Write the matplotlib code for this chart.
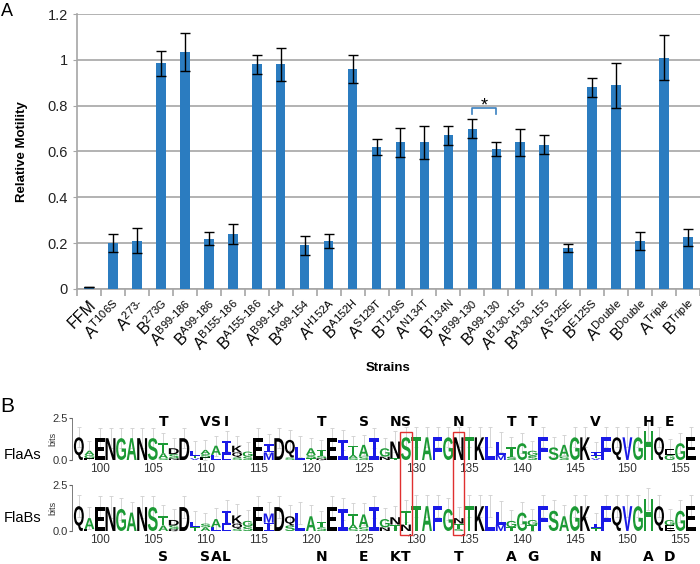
import matplotlib
matplotlib.use('Agg')
import matplotlib.pyplot as plt
import numpy as np
from matplotlib.textpath import TextPath
from matplotlib.font_manager import FontProperties
from matplotlib.patches import PathPatch, Rectangle
from matplotlib.transforms import Affine2D, blended_transform_factory

plt.rcParams['font.family'] = ['Liberation Sans', 'DejaVu Sans']

# ---- panel A data ----
strain_base = ['FFM', 'A', 'A', 'B', 'A', 'B', 'A', 'B', 'A', 'B', 'A', 'B', 'A', 'B',
               'A', 'B', 'A', 'B', 'A', 'B', 'A', 'B', 'A', 'B', 'A', 'B']
strain_sup = ['', 'T106S', '273-', '273G', 'B99-186', 'A99-186', 'B155-186', 'A155-186',
              'B99-154', 'A99-154', 'H152A', 'A152H', 'S129T', 'T129S', 'N134T', 'T134N',
              'B99-130', 'A99-130', 'B130-155', 'A130-155', 'S125E', 'E125S',
              'Double', 'Double', 'Triple', 'Triple']
motility = [0.01, 0.20, 0.21, 0.985, 1.035, 0.22, 0.24, 0.98, 0.98, 0.19, 0.21, 0.96, 0.62,
            0.64, 0.64, 0.67, 0.70, 0.61, 0.64, 0.63, 0.18, 0.88, 0.89, 0.21, 1.01, 0.225]
motility_err = [0.0, 0.04, 0.055, 0.054, 0.083, 0.03, 0.045, 0.041, 0.073, 0.04, 0.03, 0.06,
                0.034, 0.063, 0.073, 0.04, 0.04, 0.03, 0.059, 0.04, 0.017, 0.042, 0.098,
                0.04, 0.097, 0.037]

# ---- panel B data (sequence logos, positions 98-156, "letter+height" bottom->top) ----
positions = list(range(98, 157))
flaA_logo = ["Q1.35", "E.1 G.2 A.25", "E1.3", "N1.3", "G1.3", "A1.3", "N1.3", "S1.3",
             "S.1 A.3 T.6", "N.1 S.25 D.35", "D1.3", "V.1 T.15 L.3", "E.15 S.2 A.25",
             "L.3 A.55", "L.3 I.85", "S.15 Q.3 K.4", "S.2 G.3", "E1.3", "M.45 I.5", "D1.3",
             "S.15 Q1.05", "L.8", "T.1 S.2 A.4", "N.1 S.15 T.35", "E1.3", "I1.2",
             "S.1 A.2 T.55", "S.2 A.7", "I1.3", "N.2 G.5", "T.1 N1.0", "S1.35", "T1.35",
             "A1.35", "F1.35", "G1.35", "N1.35", "T1.35", "K1.35", "L1.35", "M.3 L.75",
             "S.2 T.55", "G1.0", "S.25 G.3", "F1.35", "S.75", "S.2 A.7", "G1.35", "K1.35",
             "V.1 T.15 I.2", "F1.35", "Q1.35", "V1.35", "G1.35", "H1.75", "Q1.35",
             "G.3 E.35", "G1.0", "E1.35"]
flaB_logo = ["Q1.35", "E.1 A.6", "E1.3", "N1.3", "G1.2", "A1.0", "N1.3", "S1.3",
             "A.3 T.5", "R.1 S.2 D.3", "D1.3", "T.2 L.3", "A.2 S.2", "L.2 A.45",
             "L.3 I.8", "S.1 Q.3 K.45", "S.25 G.3", "E1.3", "I.45 M.5", "D1.3", "S.3 Q.5",
             "L1.0", "A.8", "S.2 T.3", "E1.3", "I1.2", "S.1 A.25 T.55", "S.2 A.7", "I1.3",
             "N.2 G.45", "T.35 N.4", "N.35 T.75", "T1.35", "A1.35", "F1.35", "G1.2",
             "S.1 T.3 N.3", "T1.35", "K1.35", "L1.35", "M.35 L.7", "T.2 G.35", "G1.0",
             "T.3 G.3", "F1.35", "S1.1", "A.8", "G1.35", "K1.35", "T.15 I.25", "F1.35",
             "Q1.35", "V1.35", "G1.35", "H1.75", "Q1.35", "E.3 G.3", "G1.1", "E1.35"]
flaA_marks = [(106, 'T'), (110, 'V'), (111, 'S'), (112, 'I'), (121, 'T'), (125, 'S'),
              (128, 'N'), (129, 'S'), (134, 'N'), (139, 'T'), (141, 'T'), (147, 'V'),
              (152, 'H'), (154, 'E')]
flaB_marks = [(106, 'S'), (110, 'S'), (111, 'A'), (112, 'L'), (121, 'N'), (125, 'E'),
              (128, 'K'), (129, 'T'), (134, 'T'), (139, 'A'), (141, 'G'), (147, 'N'),
              (152, 'A'), (154, 'D')]
boxed = [129, 134]

fig = plt.figure(figsize=(7, 5.64), dpi=100)

# ================= panel A =================
ax = fig.add_axes([77 / 700, 1 - 289 / 564, 623 / 700, 275 / 564])
x = np.arange(len(motility))
ax.bar(x, motility, width=0.4, color='#2b7cc0', zorder=3)
ax.errorbar(x, motility, yerr=motility_err, fmt='none', ecolor='black',
            elinewidth=1, capsize=3.5, capthick=1, zorder=4)
ax.set_xlim(-0.5, len(motility) - 0.5)
ax.set_ylim(0, 1.2)
ax.set_yticks(np.arange(0, 1.21, 0.2))
ax.set_yticklabels(['0', '0.2', '0.4', '0.6', '0.8', '1', '1.2'], fontsize=10.5, color='#222')
ax.yaxis.grid(True, color='#a6a6a6', lw=1.2)
ax.set_axisbelow(True)
for s in ['top', 'right']:
    ax.spines[s].set_visible(False)
for s in ['left', 'bottom']:
    ax.spines[s].set_color('#a6a6a6')
    ax.spines[s].set_linewidth(1.2)
ax.tick_params(axis='y', length=3, color='#a6a6a6')

labels = []
for b, s in zip(strain_base, strain_sup):
    labels.append(b if s == '' else b + r'$^{\mathregular{' + s.replace('-', '\u2010') + '}}$')
ax.set_xticks(x)
ax.set_xticklabels(labels, rotation=45, ha='right', rotation_mode='anchor', fontsize=11.5)
ax.tick_params(axis='x', length=0, pad=6)
ax.set_xticks(np.arange(-0.5, len(motility), 1), minor=True)
ax.tick_params(axis='x', which='minor', length=5, color='#a6a6a6', width=1.2)

# significance bracket
ax.plot([16, 16, 17, 17], [0.765, 0.79, 0.79, 0.765], color='#3a80c0', lw=1.2, zorder=5)
ax.text(16.5, 0.8, '*', ha='center', va='center', fontsize=13, zorder=5)

fig.text(22 / 700, 1 - 152 / 564, 'Relative Motility', rotation=90, ha='center',
         va='center', fontsize=9.5, weight='bold')
fig.text(388 / 700, 1 - 368 / 564, 'Strains', ha='center', va='center',
         fontsize=9.5, weight='bold')
fig.text(7 / 700, 1 - 11 / 564, 'A', ha='center', va='center', fontsize=13)
fig.text(7 / 700, 1 - 407 / 564, 'B', ha='center', va='center', fontsize=15)

# ================= panel B =================
colors = {}
for c in 'RKDENQ':
    colors[c] = '#000000'
for c in 'SGHTAP':
    colors[c] = '#1c9a35'
for c in 'YVMCLFIW':
    colors[c] = '#1a1ae6'

fp_sans = FontProperties(family='Liberation Sans', weight='bold')
fp_mono = FontProperties(family='DejaVu Sans Mono', weight='bold')


def draw_letter(a, ch, xc, y0, w, h):
    tp = TextPath((0, 0), ch, size=1, prop=fp_mono if ch == 'I' else fp_sans)
    bb = tp.get_extents()
    tr = Affine2D().translate(-bb.x0, -bb.y0).scale(w / bb.width, h / bb.height)
    tr = tr.translate(xc - w / 2, y0)
    a.add_patch(PathPatch(tr.transform_path(tp), fc=colors[ch], ec='none', lw=0, zorder=3))


def draw_logo(a, cols, name, name_y):
    tops = []
    for p, col in zip(positions, cols):
        stack = [(t[0], float(t[1:])) for t in col.split()]
        stack.sort(key=lambda e: e[1])
        y0 = 0
        for ch, h in stack:
            draw_letter(a, ch, p, y0, 0.94, h)
            y0 += h
        tops.append(y0)
    a.errorbar(positions, tops, yerr=0.6, fmt='none', ecolor='#cfcfcf', elinewidth=0.6,
               capsize=1.5, capthick=0.6, zorder=1)
    a.set_xlim(97.35, 156.6)
    a.set_ylim(0, 2.5)
    a.set_yticks([0, 2.5])
    a.set_yticklabels(['0.0', '2.5'], fontsize=8, color='#333')
    a.tick_params(axis='y', length=2, pad=1, color='#666')
    a.set_ylabel('bits', fontsize=6.5, color='#333')
    a.yaxis.set_label_coords(-0.024, 0.5)
    a.set_xticks(np.arange(100, 156, 5))
    a.tick_params(axis='x', length=0, pad=2, labelsize=8.5, labelcolor='#333')
    for s in ['top', 'right', 'bottom']:
        a.spines[s].set_visible(False)
    a.spines['left'].set_color('#666')
    a.spines['left'].set_linewidth(0.6)
    fig.text(4 / 700, 1 - name_y / 564, name, ha='left', va='center', fontsize=10.5)


axA = fig.add_axes([72 / 700, 1 - 460 / 564, 625 / 700, 42 / 564])
draw_logo(axA, flaA_logo, 'FlaAs', 455)
axB = fig.add_axes([72 / 700, 1 - 531 / 564, 625 / 700, 46 / 564])
draw_logo(axB, flaB_logo, 'FlaBs', 518)

blend = blended_transform_factory(axA.transData, fig.transFigure)
for p, ch in flaA_marks:
    fig.text(p, 1 - 422 / 564, ch, transform=blend, ha='center', va='center',
             fontsize=10, weight='bold', family='DejaVu Sans')
for p, ch in flaB_marks:
    fig.text(p, 1 - 557 / 564, ch, transform=blend, ha='center', va='center',
             fontsize=10, weight='bold', family='DejaVu Sans')
for p in boxed:
    fig.patches.append(Rectangle((p - 0.55, 1 - 535 / 564), 1.1, 103 / 564,
                                 transform=blend, fill=False, ec='#e03030', lw=1))

fig.savefig('out.png', dpi=100)
